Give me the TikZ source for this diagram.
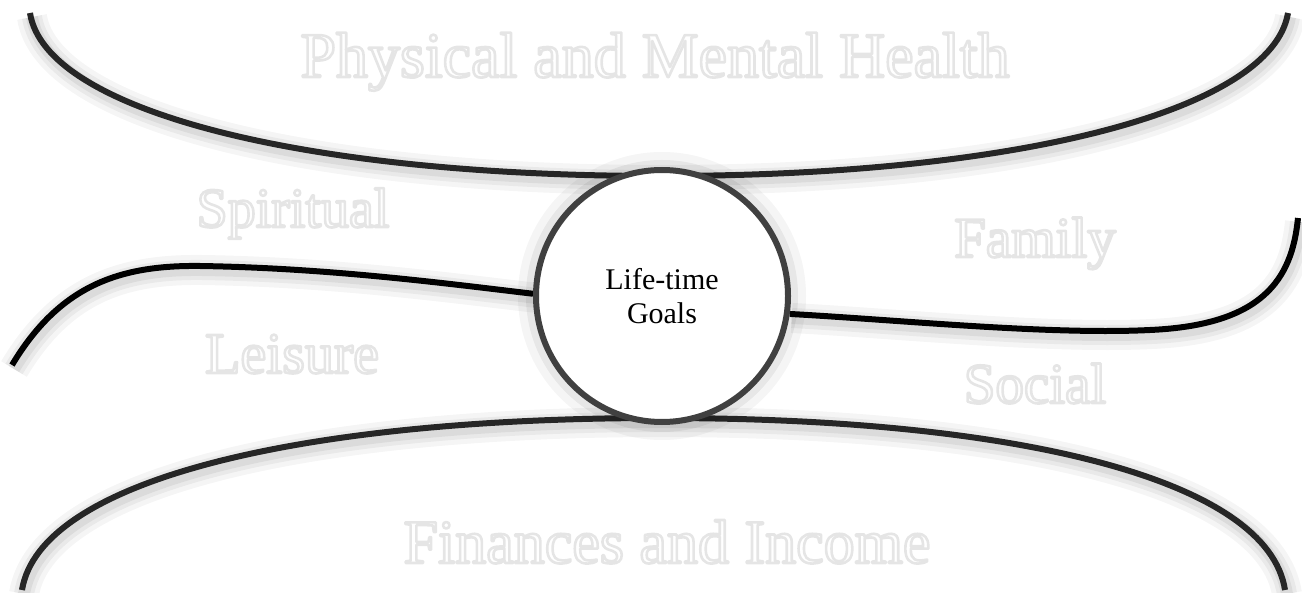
\documentclass[tikz,border=0pt]{standalone}
\usepackage{fontspec}
\setmainfont{Liberation Serif}
\usetikzlibrary{backgrounds}

% white letters with a light grey rim
\newcommand{\glowtext}[1]{\special{pdf:literal direct 0.9 G 1.3 w 1 j 2 Tr}#1\special{pdf:literal direct 0 Tr}}

\begin{document}
\begin{tikzpicture}[x=0.5pt, y=-0.5pt,
    arealabel/.style={text=white, anchor=base, font=\fontsize{#1}{#1}\selectfont},
    lineshadow/.style={
      preaction={draw=black, opacity=.04, line width=15pt,
        transform canvas={shift={(1pt,-2pt)}}},
      preaction={draw=black, opacity=.05, line width=10pt,
        transform canvas={shift={(1pt,-2pt)}}},
      preaction={draw=black, opacity=.06, line width=6pt,
        transform canvas={shift={(1pt,-2pt)}}}},
    arc/.style={draw=black!85, line width=3pt, lineshadow},
    wave/.style={draw=black, line width=3pt, lineshadow},
    goal/.style={circle, draw=black!75, fill=white, line width=3pt,
      minimum size=126pt, align=center, font=\fontsize{15}{17}\selectfont,
      preaction={draw=black, opacity=.04, line width=18pt},
      preaction={draw=black, opacity=.06, line width=10pt}}]

    % Fix the size of the page
    \useasboundingbox (0,0) rectangle (1302,593);

    % The centre circle
    \node[goal] (life) at (662,296) {Life-time\\Goals};

    \begin{scope}[on background layer]
    % The two big arcs
    \draw[arc] (30,13) .. controls (45,110) and (300,176) .. (660,176)
        .. controls (1020,176) and (1272,110) .. (1288,13);
    \draw[arc] (22,590) .. controls (40,480) and (300,418) .. (660,418)
        .. controls (1020,418) and (1268,480) .. (1285,590);

    % The two waves
    \coordinate (wl) at (12,365);
    \coordinate (wr) at (1298,218);
    \draw[wave] (wl) .. controls (60,285) and (120,265) .. (200,266)
        .. controls (330,268) and (450,284) .. (life.179);
    \draw[wave] (life.-8) .. controls (900,320) and (1050,335) .. (1150,330)
        .. controls (1262,325) and (1292,280) .. (wr);
    \end{scope}

    % The area labels
    \node[arealabel=32pt] (health) at (655,77) {\glowtext{Physical and Mental Health}};
    \node[arealabel=28pt] (spirit) at (293,227) {\glowtext{Spiritual}};
    \node[arealabel=29pt] (leisure) at (292,373) {\glowtext{Leisure}};
    \node[arealabel=28.5pt] (family) at (1035,257) {\glowtext{Family}};
    \node[arealabel=28.5pt] (social) at (1035,403) {\glowtext{Social}};
    \node[arealabel=31pt] (income) at (667,563) {\glowtext{Finances and Income}};

\end{tikzpicture}
\end{document}
